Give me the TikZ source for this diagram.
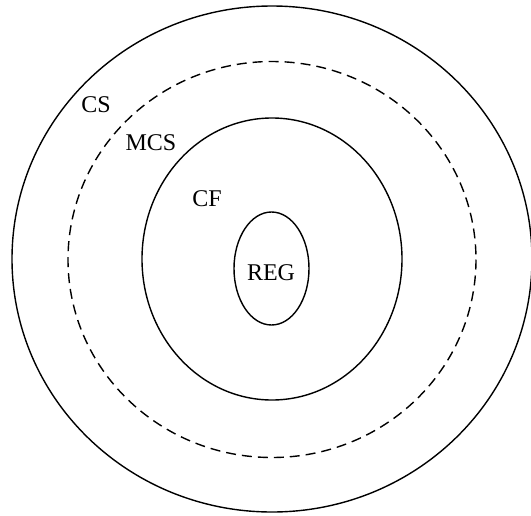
\documentclass[tikz,border=0pt]{standalone}
\usepackage{fontspec}
\setmainfont{Liberation Serif}
\begin{document}
\begin{tikzpicture}
[x=1pt,y=-1pt,line width=1.4pt,every node/.style={font=\fontsize{24}{28}\selectfont, inner sep=0pt}]
\clip (0,0) rectangle (531,515);
\useasboundingbox (0,0) rectangle (531,515);
% nested classes, outermost first
\draw (272,259) ellipse [x radius=260, y radius=253];
\draw[dash pattern=on 10pt off 6pt] (272,259.5) ellipse [x radius=204, y radius=198];
\draw (272,259) ellipse [x radius=130, y radius=141];
\draw (271.5,268.5) ellipse [x radius=37.5, y radius=56.5];
\node (cs) at (96,105) {CS};
\node (mcs) at (151,143) {MCS};
\node (cf) at (207,199) {CF};
\node (reg) at (271,273) {REG};
\end{tikzpicture}
\end{document}
